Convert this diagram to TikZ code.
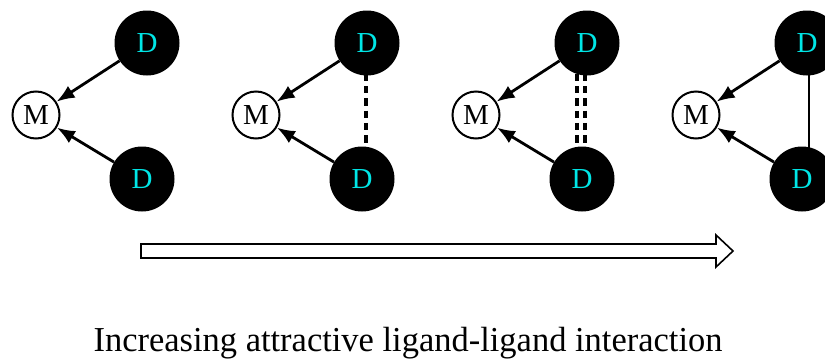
\documentclass[tikz,border=0pt]{standalone}
\usepackage{fontspec}
\setmainfont{Liberation Serif}
\usetikzlibrary{arrows.meta,calc}
\definecolor{dcyan}{RGB}{0,230,230}
\tikzset{
  metal/.style={circle,draw=black,line width=2pt,fill=white,minimum size=47pt,inner sep=0pt,font=\fontsize{29}{29}\selectfont},
  donor/.style={circle,fill=black,minimum size=65pt,inner sep=0pt,text=dcyan,font=\fontsize{29}{29}\selectfont},
  bond/.style={line width=2.8pt,-{Latex[length=18pt,width=14pt]}},
  ddash/.style={line width=3.2pt,dash pattern=on 7.3pt off 5pt},
  dline/.style={line width=2.6pt},
}
\begin{document}
\begin{tikzpicture}[x=1pt,y=-1pt]
\useasboundingbox (0,0) rectangle (825,362);
\foreach \i/\dx in {1/0,2/220,3/440,4/660}{
  \node[metal] (M\i) at (36+\dx,115) {M};
  \node[donor] (T\i) at (147+\dx,43) {D};
  \node[donor] (B\i) at (142+\dx,179) {D};
  \draw[bond] (T\i) -- (M\i);
  \draw[bond] (B\i) -- (M\i);
}
% ligand-ligand contacts
\draw[ddash] ($(T2.south)+(-1,-2)$) -- ($(B2.north)+(4,2)$);
\draw[ddash] ($(T3.south)+(-10,-2)$) -- ($(B3.north)+(-5,2)$);
\draw[ddash] ($(T3.south)+(-2,-2)$) -- ($(B3.north)+(3,2)$);
\draw[dline] ($(T4.south)+(2,-2)$) -- ($(B4.north)+(7,2)$);
% direction arrow
\draw[line width=1.6pt,fill=white,line join=miter]
  (141,244) -- (716,244) -- (716,235) -- (733,251) -- (716,267) -- (716,258) -- (141,258) -- cycle;
\node[font=\fontsize{35}{35}\selectfont,xscale=0.985] (cap) at (408,343) {Increasing attractive ligand-ligand interaction};
\end{tikzpicture}
\end{document}
